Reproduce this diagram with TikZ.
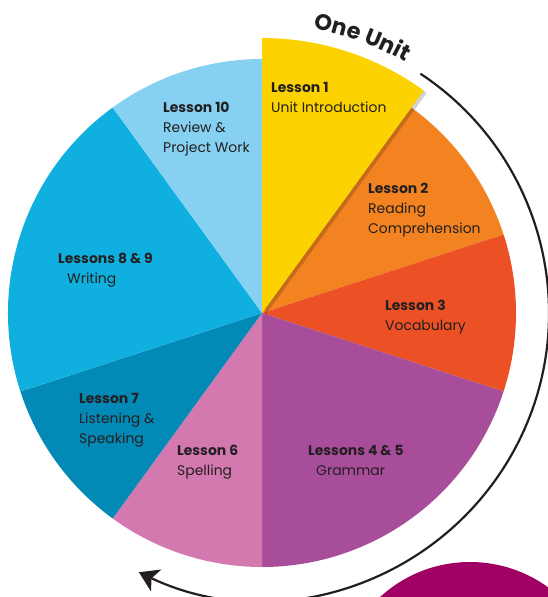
\documentclass[tikz,border=0pt]{standalone}
\usepackage{fontspec}
\setmainfont{Poppins}
\usepackage{tikz}
\usetikzlibrary{arrows.meta, decorations.text}

\definecolor{lsnyellow}{RGB}{252,210,0}
\definecolor{lsnorange}{RGB}{242,131,32}
\definecolor{lsnred}{RGB}{236,80,37}
\definecolor{lsnpurple}{RGB}{168,77,154}
\definecolor{lsnpink}{RGB}{212,121,176}
\definecolor{lsnteal}{RGB}{2,137,181}
\definecolor{lsnblue}{RGB}{15,176,224}
\definecolor{lsnsky}{RGB}{134,208,242}
\definecolor{lsnmagenta}{RGB}{160,0,100}
\definecolor{inkblack}{RGB}{35,31,32}

\newcommand{\unitfont}{\fontsize{22.5}{22.5}\selectfont\bfseries}

\begin{document}
\begin{tikzpicture}[
    x=1bp, y=1bp,
    lbl/.style={anchor=north west, inner sep=0pt, align=left, text=inkblack,
                font=\fontsize{14}{20}\selectfont},
    unitarrow/.style={-{Stealth[length=19bp, width=24bp, inset=5bp]},
                line width=2.2bp, inkblack}
]
    \useasboundingbox (-262,-284) rectangle (286,313);

    % slices, clockwise from the top
    \fill[lsnorange] (0,0) -- (54:254bp) arc (54:18:254bp) -- cycle;
    \fill[lsnred] (0,0) -- (18:254bp) arc (18:-18:254bp) -- cycle;
    \fill[lsnpurple] (0,0) -- (-18:254bp) arc (-18:-90:254bp) -- cycle;
    \fill[lsnpink] (0,0) -- (-90:254bp) arc (-90:-126:254bp) -- cycle;
    \fill[lsnteal] (0,0) -- (-126:254bp) arc (-126:-162:254bp) -- cycle;
    \fill[lsnblue] (0,0) -- (-162:254bp) arc (-162:-234:254bp) -- cycle;
    \fill[lsnsky] (0,0) -- (126:254bp) arc (126:90:254bp) -- cycle;
    % lesson 1 stands out
    \fill[black, opacity=.18, shift={(3,-2.5)}] (0,0) -- (90:275bp) arc (90:54:275bp) -- cycle;
    \fill[lsnyellow] (0,0) -- (90:275bp) arc (90:54:275bp) -- cycle;

    \fill[lsnmagenta] (208,-382) circle (133bp);

    \node[lbl] (l1) at (9,231) {\textbf{Lesson 1}\\Unit Introduction};
    \node[lbl] (l2) at (106,130) {\textbf{Lesson 2}\\Reading\\Comprehension};
    \node[lbl] (l3) at (123,13) {\textbf{Lesson 3}\\Vocabulary};
    \node[lbl] (l45) at (46,-132) {\textbf{Lessons 4 \& 5}\\\hspace*{8bp}Grammar};
    \node[lbl] (l6) at (-85,-132) {\textbf{Lesson 6}\\Spelling};
    \node[lbl] (l7) at (-183,-80) {\textbf{Lesson 7}\\Listening \&\\Speaking};
    \node[lbl] (l89) at (-204,60) {\textbf{Lessons 8 \& 9}\\\hspace*{9bp}Writing};
    \node[lbl] (l10) at (-99,211) {\textbf{Lesson 10}\\Review \&\\Project Work};

    \path[decorate, decoration={text along path, text align=center,
        text color=inkblack, text={|\unitfont|One Unit}}]
        (86:289bp) arc (86:54:289bp);
    \draw[unitarrow] (56.5:287bp) arc (56.5:-115.4:287bp);
\end{tikzpicture}
\end{document}
